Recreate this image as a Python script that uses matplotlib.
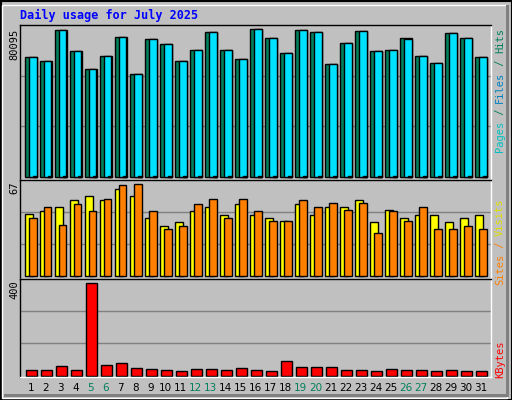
import matplotlib
matplotlib.use("Agg")
import matplotlib.pyplot as plt
from matplotlib.patches import Rectangle

days = list(range(1, 32))
hits = [64870,62695,79547,68131,58346,65413,75742,55628,74654,71936,62695,68675,78460,68675,63782,80095,
        75198,67044,79547,78460,61064,72480,79003,68131,68675,75198,65413,61608,77916,75198,64870]
files = [64870,62695,79547,68131,58346,65413,75742,55628,74654,71936,62695,68675,78460,68675,63782,80095,
         75198,67044,79547,78460,61064,72480,79003,68131,68675,74654,65413,61608,77916,75198,64870]
pages = [300]*31
sites = [45,47,50,55,58,55,63,58,42,36,39,47,50,44,52,44,42,40,52,44,50,50,55,39,48,42,44,44,39,42,44]
visits = [42,50,37,52,47,56,66,67,47,34,36,52,56,42,56,47,40,40,55,50,53,48,53,31,47,40,50,34,34,36,34]
kbytes = [23,23,41,23,400,45,54,34,28,23,19,28,28,23,34,23,19,63,37,37,37,23,23,19,28,23,23,19,23,19,19]
weekend = {5,6,12,13,19,20,26,27}

W, H = 512, 400
fig = plt.figure(figsize=(W/100, H/100), dpi=100)
fig.patch.set_facecolor('#C0C0C0')
# border / bevel
fig.patches.append(Rectangle((0.5/W, 0.5/H), 1-1/W, 1-1/H, transform=fig.transFigure,
                             fill=False, ec='black', lw=1.5))
fig.patches.append(Rectangle((2/W, 2/H), 1-7/W, 1-7/H, transform=fig.transFigure,
                             fill=False, ec='white', lw=1))
fig.patches.append(Rectangle((4/W, 3/H), 1-7/W, 3/H, transform=fig.transFigure,
                             fc='#808080', ec='none'))
fig.patches.append(Rectangle((1-6/W, 3/H), 3/W, 1-8/H, transform=fig.transFigure,
                             fc='#808080', ec='none'))

def mkax(top, bot):
    ax = fig.add_axes([20/W, 1-bot/H, 471/W, (bot-top)/H])
    ax.set_facecolor('#C0C0C0')
    ax.set_xlim(0.3, 31.7)
    ax.set_xticks([]); ax.set_yticks([])
    for s in ax.spines.values():
        s.set_color('black'); s.set_linewidth(1)
    ax.spines['right'].set_color('white'); ax.spines['bottom'].set_color('white')
    return ax

def grid(ax, top):
    for f in (1/3, 2/3):
        ax.axhline(top*f, color='#808080', lw=1, zorder=0)

bk = dict(edgecolor='black', linewidth=1, align='edge')
x = [d for d in days]

ax1 = mkax(25, 180)
ax1.set_ylim(-1800, 82400); grid(ax1, 82400)
ax1.bar([d-0.35 for d in x], hits, 0.75, color='#00805C', **bk)
ax1.bar([d-0.083 for d in x], files, 0.483, color='#00E0FF', **bk)
ax1.bar([d+0.15 for d in x], pages, 0.25, color='#00C0FF', **bk)

ax2 = mkax(180, 279)
ax2.set_ylim(-2, 69.6); grid(ax2, 69.6)
ax2.bar([d-0.35 for d in x], sites, 0.53, color='#FFFF00', **bk)
ax2.bar([d-0.083 for d in x], visits, 0.483, color='#FF8000', **bk)

ax3 = mkax(279, 377)
ax3.set_ylim(-5.7, 418.8); grid(ax3, 418.8)
ax3.bar([d-0.283 for d in x], kbytes, 0.683, color='#FF0000', **bk)

fig.text(20/W, 1-15/H, 'Daily usage for July 2025', color='#0000FF', fontsize=8.5,
         fontweight='bold', family='DejaVu Sans Mono', va='center', ha='left')

fig.text(14/W, 1-44/H, '80095', rotation=90, fontsize=7.5, family='DejaVu Sans Mono', ha='center', va='center')
fig.text(14/W, 1-188/H, '67', rotation=90, fontsize=7.5, family='DejaVu Sans Mono', ha='center', va='center')
fig.text(14/W, 1-290/H, '400', rotation=90, fontsize=7.5, family='DejaVu Sans Mono', ha='center', va='center')

def rlabel(parts, ytop):
    y = ytop
    for txt, col in parts:
        t = fig.text(500/W, 1-y/H, txt, rotation=90, color=col, fontsize=7.5,
                     family='DejaVu Sans Mono', ha='center', va='top')
        y += len(txt)*6.2

rlabel([('Hits', '#00805C'), (' / ', '#00805C'), ('Files', '#0080C0'), (' / ', '#00805C'), ('Pages', '#00C0C0')][::-1][::-1], 28)
rlabel([('Visits', '#E0E000'), (' / ', '#FF8000'), ('Sites', '#FF8000')], 198)
rlabel([('KBytes', '#FF0000')], 340)

for d in days:
    xf = (20 + (d + 0.025 - 0.3) * 15) / W
    fig.text(xf, 1-388/H, str(d), color='#00805C' if d in weekend else 'black',
             fontsize=7.5, ha='center', va='center')

fig.savefig('out.png', dpi=100, facecolor=fig.get_facecolor())
